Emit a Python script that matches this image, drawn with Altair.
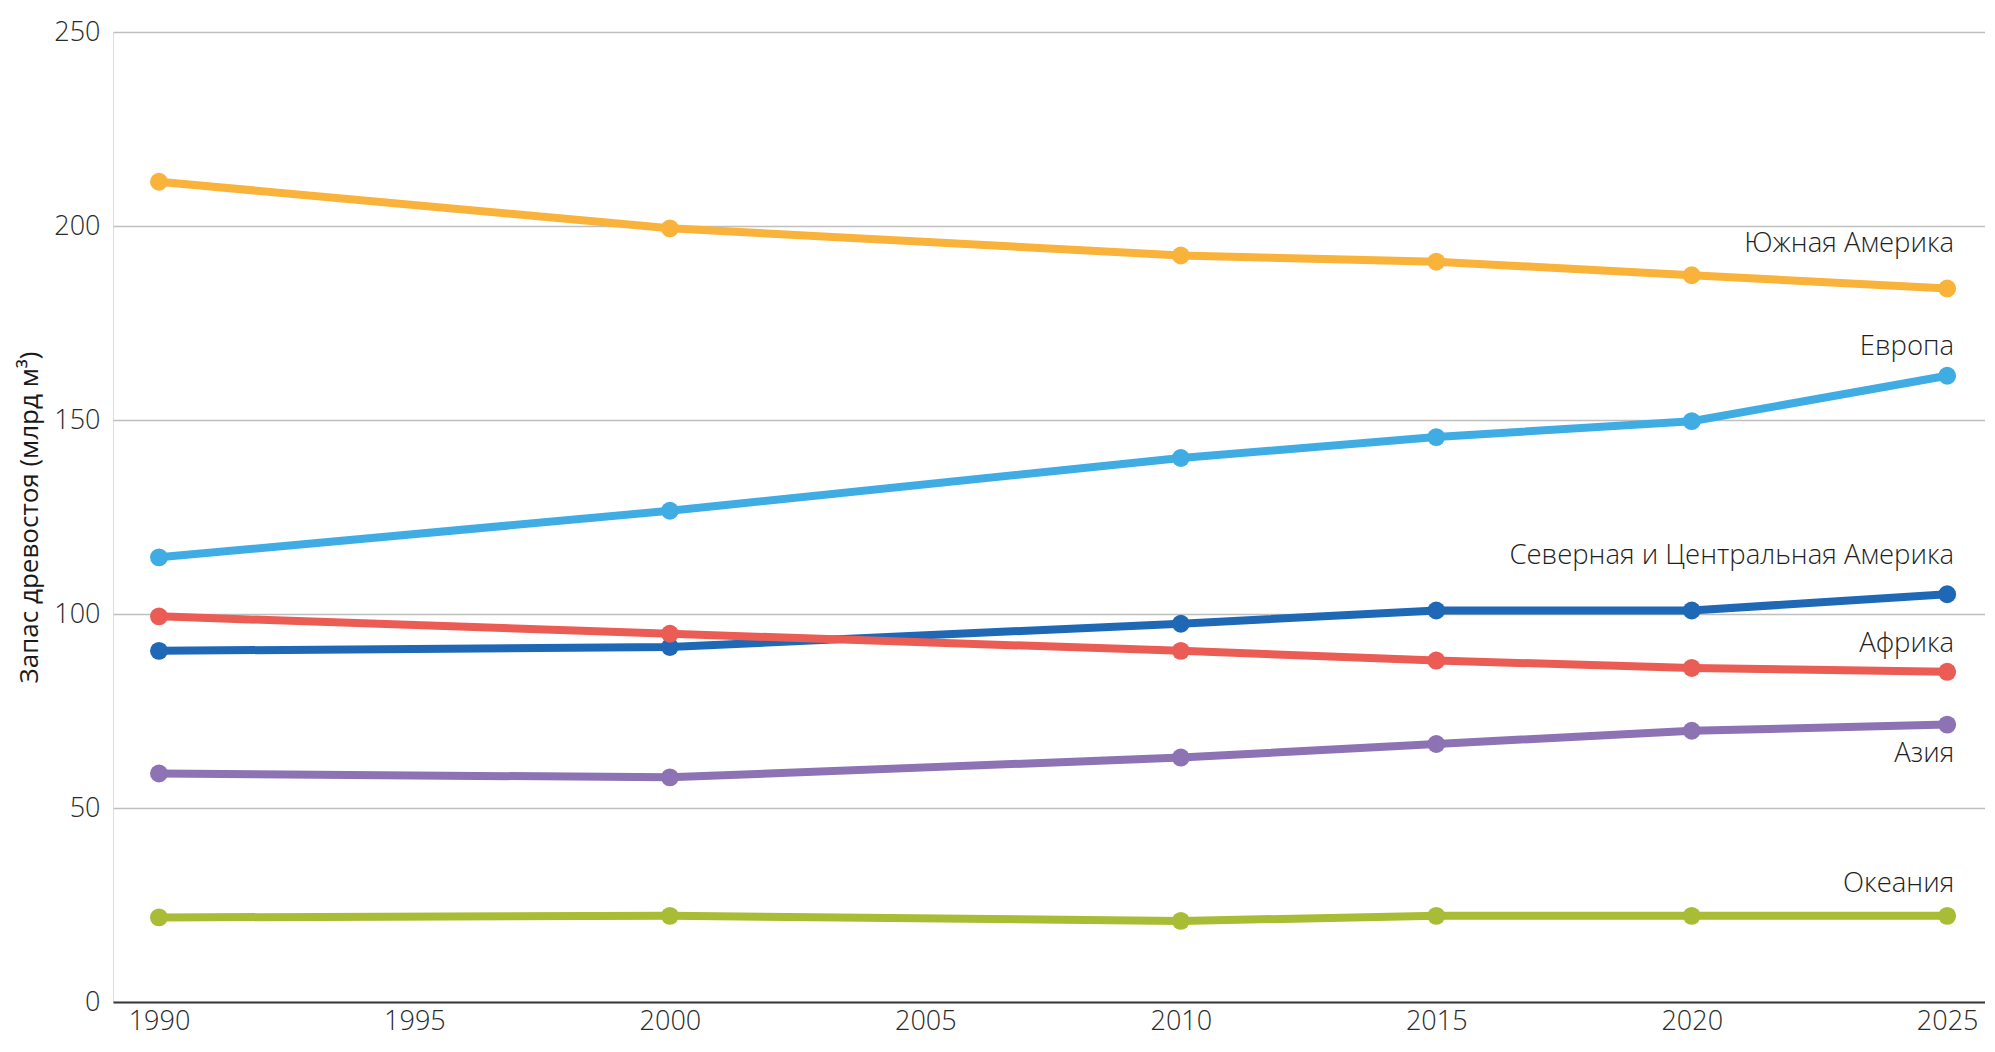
import altair as alt
import pandas as pd

years = [1990, 2000, 2010, 2015, 2020, 2025]
regions = ["Южная Америка", "Европа", "Северная и Центральная Америка", "Африка", "Азия", "Океания"]
south_america = [211.4, 199.4, 192.4, 190.8, 187.3, 183.9]
europe = [114.6, 126.6, 140.2, 145.6, 149.7, 161.4]
north_central = [90.5, 91.5, 97.5, 100.9, 100.9, 105.1]
africa = [99.4, 94.9, 90.5, 88.0, 86.1, 85.1]
asia = [58.9, 57.9, 63.0, 66.5, 69.9, 71.5]
oceania = [21.8, 22.2, 20.9, 22.2, 22.2, 22.2]
series = [south_america, europe, north_central, africa, asia, oceania]
colors = ["#F9B23A", "#3FADE3", "#1E68B6", "#EB5C55", "#8D72B4", "#A8BC36"]
label_dy = [-44, -29, -38, -28, 29, -32]

rows = []
for r, vals in zip(regions, series):
    for y, v in zip(years, vals):
        rows.append({"region": r, "year": y, "value": v})
df = pd.DataFrame(rows)

FONT = "Open Sans"

x = alt.X("year:Q", scale=alt.Scale(domain=[1989.1, 2025.74], nice=False, zero=False),
          axis=alt.Axis(values=[1990, 1995, 2000, 2005, 2010, 2015, 2020, 2025], format="d",
                        title=None, grid=False, ticks=False, domainColor="#3a3a3a", domainWidth=2,
                        labelFont=FONT, labelFontSize=27, labelFontWeight=300, labelColor="#2a2a2a",
                        labelPadding=6))
y = alt.Y("value:Q", scale=alt.Scale(domain=[0, 250], nice=False),
          axis=alt.Axis(values=[0, 50, 100, 150, 200, 250], title="Запас древостоя (млрд м³)",
                        domain=False, ticks=False, gridColor="#BFBFBF", gridWidth=1.5,
                        labelFont=FONT, labelFontSize=27, labelFontWeight=300, labelColor="#2a2a2a",
                        labelPadding=13, titleFont=FONT, titleFontSize=26, titleFontWeight=400,
                        titleColor="#1a1a1a", titleX=-84, titleAngle=-90, titleBaseline="middle",
                        titleAlign="center"))
color = alt.Color("region:N", scale=alt.Scale(domain=regions, range=colors), legend=None)

base = alt.Chart(df)
lines = base.mark_line(strokeWidth=8).encode(x=x, y=y, color=color, detail="region:N")
points = base.mark_point(filled=True, opacity=1, size=320, shape="circle").encode(x=x, y=y, color=color)

layers = [lines, points]
for r, dy in zip(regions, label_dy):
    sub = df[(df.region == r) & (df.year == 2025)]
    layers.append(
        alt.Chart(sub).mark_text(align="right", baseline="middle", dx=7, dy=dy, font=FONT,
                                 fontSize=27.5, fontWeight=300, color="#1f1f1f")
        .encode(x=x, y=y, text="region:N")
    )

chart = alt.layer(*layers).properties(
    width=1872, height=970,
    autosize=alt.AutoSizeParams(type="none"),
    padding={"left": 105, "top": 24, "right": 0, "bottom": 42},
).configure_view(stroke=None).configure(background="white")

chart.save("out.html", embed_options={"renderer": "svg", "actions": False})
